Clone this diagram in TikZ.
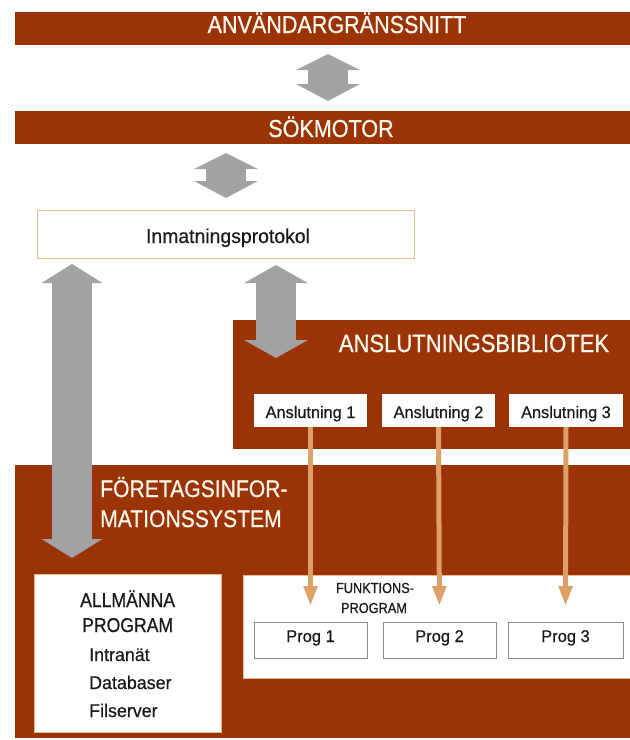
\documentclass[tikz,border=0pt]{standalone}
\usepackage{fontspec}
\setmainfont{Liberation Sans}
\newfontfamily\narrowfont{Liberation Sans}[FakeStretch=0.88, UprightFeatures={FakeBold=0.7}]
\newfontfamily\plainfont{Liberation Sans}[FakeStretch=0.97, UprightFeatures={FakeBold=0.5}]
\usetikzlibrary{arrows.meta,calc}

\definecolor{rust}{RGB}{154,52,6}
\definecolor{tanline}{RGB}{221,160,104}
\definecolor{tanedge}{RGB}{232,186,140}
\definecolor{blockgray}{RGB}{162,162,164}
\definecolor{boxgray}{RGB}{140,140,140}
\definecolor{cream}{RGB}{255,247,236}
\definecolor{ink}{RGB}{26,26,26}

\newcommand{\fsz}[1]{\fontsize{#1}{#1}\selectfont}

\tikzset{
  panel/.style={anchor=north west, inner sep=0pt, outer sep=0pt},
  rustpanel/.style={panel, fill=rust},
  whitepanel/.style={panel, fill=white},
  headtext/.style={anchor=base, text=cream, inner sep=0pt, font=\narrowfont\fsz{24.5}},
  bodytext/.style={anchor=base, text=ink, inner sep=0pt},
  lefttext/.style={bodytext, anchor=base west},
  blockarrow/.style={draw=blockgray, line width=40pt,
    {Triangle[length=17pt,width=63pt]}-{Triangle[length=16pt,width=63pt]}},
  feed/.style={draw=tanline, line width=5pt, -{Triangle[length=20pt,width=13pt]},
    shorten >=16pt},
}

\begin{document}
\begin{tikzpicture}[x=1pt, y=-1pt]
\useasboundingbox (0,0) rectangle (630,740);

% layer bars
\node[rustpanel, minimum width=615pt, minimum height=33pt] (ui) at (15,12) {};
\node[headtext] (uitext) at (337,33) {ANVÄNDARGRÄNSSNITT};
\node[rustpanel, minimum width=615pt, minimum height=33pt] (engine) at (15,111) {};
\node[headtext] (enginetext) at (331,137) {SÖKMOTOR};

% input protocol
\node[whitepanel, draw=tanedge, line width=0.8pt, minimum width=377pt, minimum height=48pt] (proto) at (37,210) {};
\node[bodytext, font=\plainfont\fsz{20}] (prototext) at (228,243) {Inmatningsprotokol};

% enterprise information system
\node[rustpanel, minimum width=615pt, minimum height=273pt] (eis) at (15,465) {};
\node[anchor=base west, text=cream, inner sep=0pt, font=\narrowfont\fsz{24}] (eis1) at (100,497) {FÖRETAGSINFOR-};
\node[anchor=base west, text=cream, inner sep=0pt, font=\narrowfont\fsz{24}] (eis2) at (100,527) {MATIONSSYSTEM};

% general programs
\node[whitepanel, draw=tanedge, line width=0.5pt, minimum width=187pt, minimum height=158pt] (general) at (34,574) {};
\node[lefttext, font=\narrowfont\fsz{20}] (g1) at (80,607) {ALLMÄNNA};
\node[lefttext, font=\narrowfont\fsz{20}] (g2) at (82,632) {PROGRAM};
\node[lefttext, font=\plainfont\fsz{18.4}] (g3) at (89,661) {Intranät};
\node[lefttext, font=\plainfont\fsz{18.4}] (g4) at (89,689) {Databaser};
\node[lefttext, font=\plainfont\fsz{18.4}] (g5) at (89,717) {Filserver};

% function programs
\node[whitepanel, draw=tanedge, line width=0.5pt, minimum width=387pt, minimum height=103pt] (funcs) at (243,575) {};
\node[bodytext, font=\narrowfont\fsz{14.5}] (f1) at (375,593) {FUNKTIONS-};
\node[bodytext, font=\narrowfont\fsz{14.5}] (f2) at (374,613) {PROGRAM};
\foreach \i/\x/\w in {1/254/113, 2/383/113, 3/508/115} {
  \node[whitepanel, draw=boxgray, line width=0.8pt, minimum width=\w pt, minimum height=36pt] (prog\i) at (\x,622) {};
  \node[bodytext, font=\plainfont\fsz{17}] (progtext\i) at ($(prog\i.north)+(0,20)$) {Prog \i};
}

% connector library
\node[rustpanel, minimum width=397pt, minimum height=129pt] (lib) at (233,320) {};
\node[headtext, font=\narrowfont\fsz{25}] (libtext) at (474,352) {ANSLUTNINGSBIBLIOTEK};
\foreach \i/\x/\w in {1/254/113, 2/382/113, 3/509/114} {
  \node[whitepanel, minimum width=\w pt, minimum height=33pt] (conn\i) at (\x,394) {};
  \node[bodytext, font=\plainfont\fsz{16.8}] (conntext\i) at ($(conn\i.north)+(0,24)$) {Anslutning \i};
}

% feeds from the connectors to the programs
\foreach \i in {1,2,3} {
  \draw[feed] (conn\i.south) -- (prog\i.north);
}

% two-way data flows
\coordinate (a1t) at (328,54);
\coordinate (a1b) at (328,101);
\coordinate (a2t) at (226,153);
\coordinate (a2b) at (226,198);
\coordinate (a3t) at (72,264);
\coordinate (a3b) at (72,558);
\coordinate (a4t) at (276,265);
\coordinate (a4b) at (276,358);
\draw[blockarrow] (a1b) -- (a1t);
\draw[blockarrow] (a2b) -- (a2t);
\draw[blockarrow, {Triangle[length=19pt,width=60pt]}-{Triangle[length=19pt,width=60pt]}] (a3b) -- (a3t);
\draw[blockarrow, {Triangle[length=18pt,width=63pt]}-{Triangle[length=18pt,width=63pt]}] (a4b) -- (a4t);
\end{tikzpicture}
\end{document}
